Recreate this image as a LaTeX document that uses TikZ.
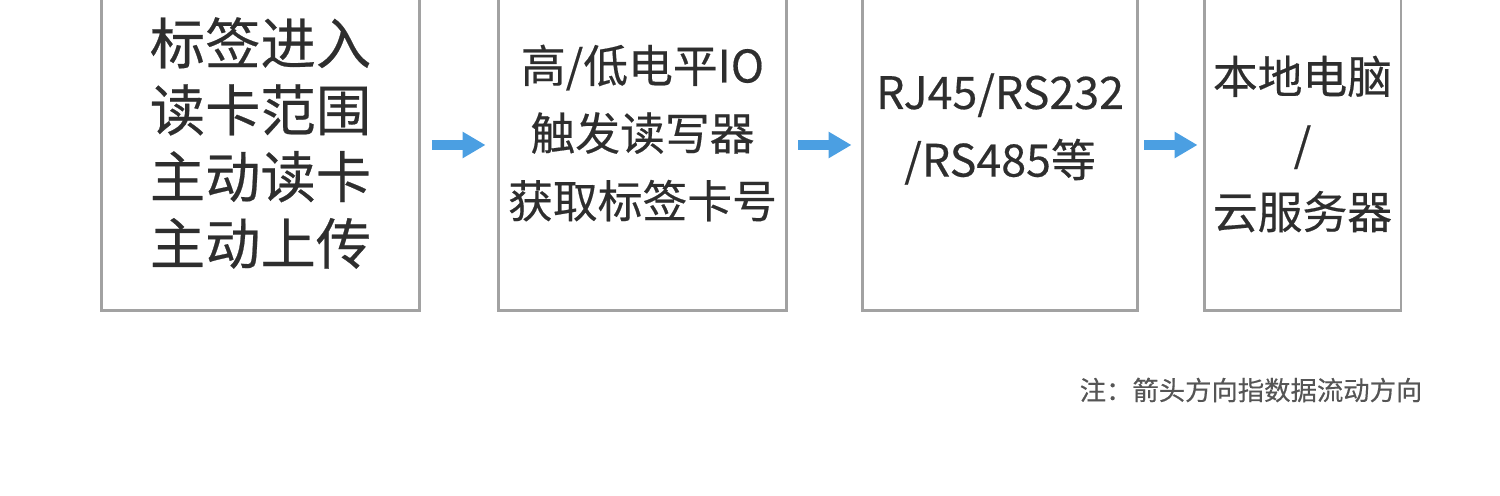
\documentclass[tikz,border=0pt]{standalone}
\usepackage{fontspec}
\setmainfont{Noto Sans CJK SC}[FakeBold=0.4]
\usetikzlibrary{positioning,arrows.meta}
\definecolor{boxgray}{HTML}{A2A2A2}
\definecolor{flowblue}{HTML}{4B9FE2}
\definecolor{txtdark}{HTML}{2E2E2E}
\definecolor{notegray}{HTML}{555555}

\begin{document}
\begin{tikzpicture}[x=0.02cm,y=-0.02cm,
        blk/.style={rectangle,draw=boxgray,line width=1.7pt,
                    anchor=south,align=center,text=txtdark,inner sep=0pt},
        bigtxt/.style={font=\fontsize{31.5}{38}\selectfont},
        midtxt/.style={font=\fontsize{25.5}{38.5}\selectfont},
        flow/.style={-{Triangle[length=0.46cm,width=0.5cm]},
                     line width=0.2cm,flowblue}]
    \clip (0,0) rectangle (1500,496);

    \node[blk,bigtxt,minimum width=6.38cm,minimum height=6.7cm] (tag) at (260.5,312)
      {标签进入\\读卡范围\\主动读卡\\主动上传};
    \node[blk,midtxt,minimum width=5.78cm,minimum height=7.1cm] (reader) at (642.5,312)
      {高/低电平IO\\触发读写器\\获取标签卡号};
    \node[blk,midtxt,minimum width=5.52cm,minimum height=7.26cm] (port) at (1000,312)
      {RJ45/RS232\\/RS485等};
    \node[blk,midtxt,minimum width=3.94cm,minimum height=6.66cm] (host) at (1302.5,312)
      {本地电脑\\/\\云服务器};

    \coordinate (lvl) at (0,145);
    \draw[flow,shorten <=0.22cm,shorten >=0.22cm] (tag.east |- lvl) -- (reader.west |- lvl);
    \draw[flow,shorten <=0.2cm,shorten >=0.18cm] (reader.east |- lvl) -- (port.west |- lvl);
    \draw[flow,shorten <=0.1cm,shorten >=0.1cm] (port.east |- lvl) -- (host.west |- lvl);

    \node[text=notegray,font=\fontsize{15}{18}\selectfont] (note) at (1251,390)
      {注：箭头方向指数据流动方向};
\end{tikzpicture}
\end{document}
